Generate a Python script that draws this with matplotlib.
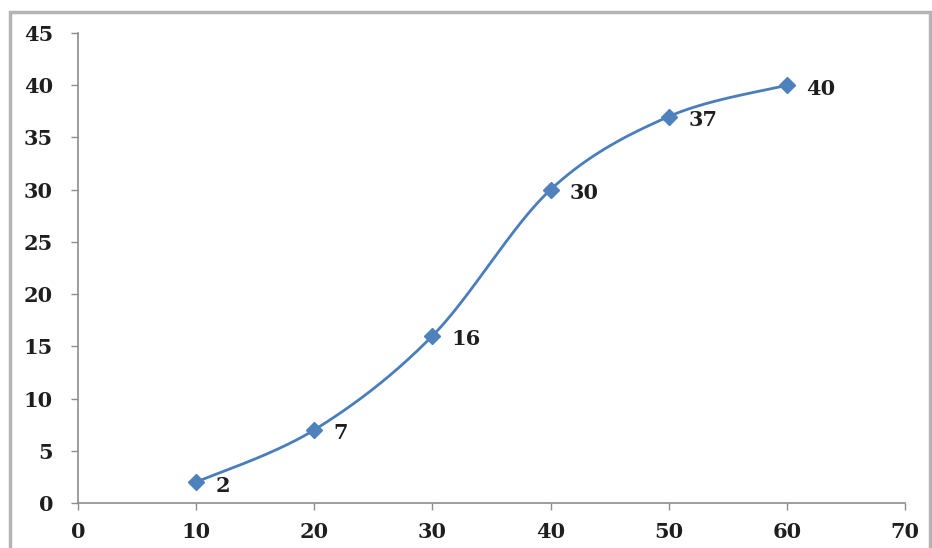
import numpy as np
import matplotlib
matplotlib.use("Agg")
import matplotlib.pyplot as plt
from matplotlib.patches import Rectangle

# Data
x_vals = [10, 20, 30, 40, 50, 60]
y_vals = [2, 7, 16, 30, 37, 40]
x_ticks = [0, 10, 20, 30, 40, 50, 60, 70]
y_ticks = [0, 5, 10, 15, 20, 25, 30, 35, 40, 45]

LINE_COLOR = "#4A7EBB"
MARKER_COLOR = "#4F81BD"
AXIS_COLOR = "#8C8C8C"
TEXT_COLOR = "#1E1E1E"
FONT_SIZE = 15


def smooth_curve(xs, ys, n=40):
    """Catmull-Rom style cubic Bezier smoothing through every point."""
    pts = np.column_stack([xs, ys]).astype(float)
    padded = np.vstack([pts[0], pts, pts[-1]])
    out = []
    t = np.linspace(0, 1, n)[:, None]
    for i in range(1, len(padded) - 2):
        p0, p1, p2, p3 = padded[i - 1], padded[i], padded[i + 1], padded[i + 2]
        c1 = p1 + (p2 - p0) / 6.0
        c2 = p2 - (p3 - p1) / 6.0
        seg = ((1 - t) ** 3) * p1 + 3 * ((1 - t) ** 2) * t * c1 \
            + 3 * (1 - t) * t ** 2 * c2 + t ** 3 * p2
        out.append(seg if i == 1 else seg[1:])
    seg = np.vstack(out)
    return seg[:, 0], seg[:, 1]


plt.rcParams["font.family"] = ["DejaVu Serif"]
plt.rcParams["font.weight"] = "bold"

fig = plt.figure(figsize=(9.32, 5.48), dpi=100)
ax = fig.add_axes([78 / 932, 1 - 503 / 548, (905 - 78) / 932, (503 - 33) / 548])

sx, sy = smooth_curve(x_vals, y_vals)
ax.plot(sx, sy, color=LINE_COLOR, lw=2.0, solid_capstyle="round", zorder=2)
ax.plot(x_vals, y_vals, ls="none", marker="D", ms=8, color=MARKER_COLOR,
        markeredgecolor=MARKER_COLOR, zorder=3)

for xv, yv in zip(x_vals, y_vals):
    ax.annotate(str(yv), (xv, yv), xytext=(14, -2.5), textcoords="offset points",
                ha="left", va="center", fontsize=FONT_SIZE, fontweight="bold",
                color=TEXT_COLOR)

ax.set_xlim(0, 70)
ax.set_ylim(0, 45)
ax.set_xticks(x_ticks)
ax.set_yticks(y_ticks)
for side in ("top", "right"):
    ax.spines[side].set_visible(False)
for side in ("left", "bottom"):
    ax.spines[side].set_color(AXIS_COLOR)
    ax.spines[side].set_linewidth(1.2)
ax.tick_params(axis="both", direction="out", length=5, width=1.0,
               color=AXIS_COLOR, labelsize=FONT_SIZE, labelcolor=TEXT_COLOR)
ax.tick_params(axis="y", pad=13)
ax.tick_params(axis="x", pad=9)
for lbl in ax.get_xticklabels() + ax.get_yticklabels():
    lbl.set_fontweight("bold")

# Outer chart frame
fig.patches.append(Rectangle((10 / 932, -0.05), (930 - 10) / 932, 1.05 - 12 / 548,
                             transform=fig.transFigure, fill=False,
                             edgecolor="#B4B4B4", lw=2.5, clip_on=False))

fig.savefig("out.png", dpi=100, facecolor="white")
